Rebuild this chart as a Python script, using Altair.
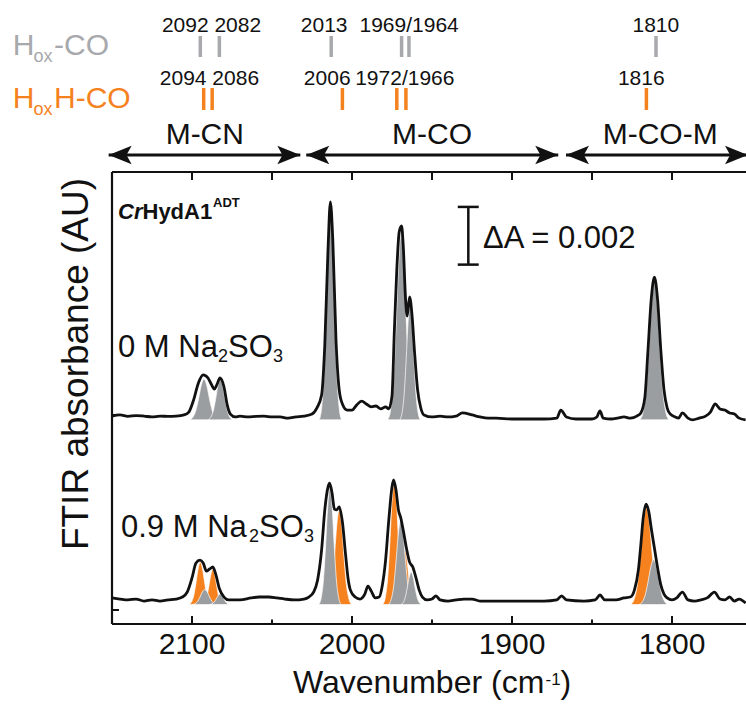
import altair as alt
import pandas as pd

FONT = "Liberation Sans"
GRAY = "#9b9ea1"
GRAY_TXT = "#a7a9ac"
ORANGE = "#f5821f"
BLACK = "#111111"

# ---------------- measured spectra (wavenumber cm-1, absorbance mAU incl. stacking offset)
upper_wn = [2150, 2145, 2140, 2135, 2130, 2125, 2120, 2115, 2110, 2105, 2102, 2099, 2096, 2093, 2090,
            2088, 2086, 2084.5, 2082.5, 2080, 2078, 2076, 2073, 2070, 2065, 2060, 2055, 2050, 2045, 2040,
            2035, 2030, 2025, 2022, 2019, 2017, 2015, 2013.5, 2012, 2010, 2008, 2006, 2003, 2000, 1997,
            1994, 1991, 1988, 1985, 1982, 1979, 1977, 1975, 1973.5, 1972, 1970.5, 1969, 1968, 1966.5,
            1965.5, 1964, 1962.5, 1961, 1959, 1957, 1955, 1950, 1945, 1940, 1935, 1931, 1925, 1920, 1915,
            1910, 1900, 1890, 1880, 1872, 1869.5, 1866, 1860, 1855, 1850, 1847, 1845, 1843, 1838, 1834,
            1830, 1826, 1822, 1819.5, 1817, 1815, 1813, 1811, 1809, 1807, 1805, 1803, 1801, 1798, 1796,
            1793.5, 1790, 1787, 1783, 1779, 1776, 1773, 1770, 1767, 1764, 1761, 1758, 1754]
upper_A = [6.72, 6.76, 6.71, 6.74, 6.72, 6.69, 6.72, 6.71, 6.72, 6.76, 6.86, 7.28, 7.87, 8.15, 8.04,
           7.83, 7.66, 7.80, 8.04, 7.73, 7.11, 6.79, 6.69, 6.72, 6.69, 6.71, 6.72, 6.69, 6.69, 6.65,
           6.69, 6.72, 6.79, 7.00, 7.45, 9.19, 12.48, 14.14, 12.82, 9.36, 7.63, 7.14, 6.93, 6.93, 7.11,
           7.24, 7.14, 7.04, 7.07, 6.97, 7.04, 6.97, 7.42, 9.71, 11.79, 13.10, 13.31, 12.65, 10.75,
           10.19, 10.85, 10.23, 9.01, 7.63, 7.00, 6.76, 6.69, 6.72, 6.69, 6.72, 6.83, 6.76, 6.69, 6.65,
           6.65, 6.62, 6.62, 6.62, 6.65, 6.93, 6.69, 6.62, 6.62, 6.62, 6.69, 6.90, 6.65, 6.62, 6.65,
           6.69, 6.65, 6.72, 6.83, 7.35, 9.01, 10.75, 11.54, 10.75, 9.01, 7.63, 7.00, 6.79, 6.69, 6.65,
           6.83, 6.65, 6.59, 6.65, 6.72, 6.86, 7.14, 6.97, 6.93, 6.83, 6.79, 6.65, 6.59]

lower_wn = [2150, 2145, 2140, 2135, 2130, 2125, 2120, 2115, 2110, 2106, 2103, 2100, 2097.5, 2095, 2093,
            2091, 2089, 2087, 2085, 2083, 2080, 2077, 2070, 2063, 2058, 2052, 2047, 2042, 2036, 2030,
            2027, 2024, 2021.5, 2019, 2017, 2015, 2014, 2012.5, 2011, 2009.5, 2008, 2006, 2004, 2002.5,
            2001, 1998, 1995, 1992, 1990, 1988, 1985.5, 1983, 1981, 1979, 1977, 1975, 1974, 1972.5, 1971,
            1969.5, 1968, 1966, 1964, 1962, 1960, 1958, 1956, 1953, 1950, 1947.5, 1945, 1940, 1935, 1930,
            1925, 1920, 1910, 1900, 1890, 1880, 1872, 1869, 1866, 1855, 1848, 1845, 1842, 1835, 1830,
            1826, 1823.5, 1821, 1819.5, 1818, 1816.2, 1814.5, 1813, 1811, 1809, 1807, 1805, 1803, 1800,
            1797, 1793.5, 1790, 1786, 1782, 1778, 1773.5, 1770, 1767, 1764, 1761, 1758, 1754]
lower_A = [0.42, 0.38, 0.35, 0.38, 0.31, 0.35, 0.31, 0.35, 0.38, 0.45, 0.62, 1.11, 1.63, 1.73, 1.63,
           1.35, 1.42, 1.49, 1.21, 0.76, 0.45, 0.35, 0.35, 0.42, 0.45, 0.45, 0.42, 0.38, 0.35, 0.38,
           0.45, 0.62, 1.04, 2.08, 3.47, 4.26, 4.40, 4.06, 3.50, 3.47, 3.57, 3.05, 1.91, 1.11,
           0.69, 0.45, 0.38, 0.55, 0.83, 0.66, 0.42, 0.45, 0.87, 1.73, 3.12, 4.26, 4.51, 4.16, 3.47,
           3.19, 2.77, 2.15, 1.66, 1.49, 1.11, 0.69, 0.45, 0.35, 0.38, 0.49, 0.35, 0.31, 0.35, 0.38,
           0.38, 0.31, 0.31, 0.31, 0.31, 0.31, 0.35, 0.49, 0.35, 0.31, 0.35, 0.52, 0.35, 0.35, 0.42,
           0.45, 0.69, 1.39, 2.25, 3.19, 3.67, 3.40, 2.84, 2.15, 1.46, 0.87, 0.55, 0.42, 0.35,
           0.42, 0.62, 0.35, 0.31, 0.35, 0.42, 0.62, 0.38, 0.35, 0.45, 0.31, 0.38, 0.24]

# ---------------- fitted component bands (read from the filled shapes)
UPPER_BASE = 6.59
LOWER_BASE = 0.19

up_2092_wn = [2101.6, 2099.5, 2097.75, 2096.0, 2094.25, 2092.5, 2090.75, 2089.0, 2087.25, 2085.5, 2083.4]
up_2092_A = [6.59, 6.68, 6.89, 7.30, 7.78, 8.01, 7.78, 7.30, 6.89, 6.68, 6.59]
up_2082_wn = [2090.1, 2088.3, 2086.8, 2085.3, 2083.8, 2082.3, 2080.8, 2079.3, 2077.8, 2076.3, 2074.5]
up_2082_A = [6.59, 6.68, 6.88, 7.29, 7.77, 7.99, 7.77, 7.29, 6.88, 6.68, 6.59]
up_2013_wn = [2020.5, 2018.9, 2017.55, 2016.2, 2014.85, 2013.5, 2012.15, 2010.8, 2009.45, 2008.1, 2006.5]
up_2013_A = [6.59, 7.05, 8.15, 10.30, 12.81, 14.00, 12.81, 10.30, 8.15, 7.05, 6.59]
up_1969_wn = [1977.7, 1975.7, 1974.1, 1972.45, 1970.8, 1969.2, 1967.6, 1965.95, 1964.3, 1962.7, 1960.7]
up_1969_A = [6.59, 7.00, 7.96, 9.85, 12.06, 13.10, 12.06, 9.85, 7.96, 7.00, 6.59]
up_1964_wn = [1970.2, 1968.7, 1967.45, 1966.2, 1964.95, 1963.7, 1962.45, 1961.2, 1959.95, 1958.7, 1957.2]
up_1964_A = [6.59, 6.84, 7.44, 8.62, 9.99, 10.64, 9.99, 8.62, 7.44, 6.84, 6.59]
up_1810_wn = [1820.1, 1818.0, 1816.25, 1814.5, 1812.75, 1811.0, 1809.25, 1807.5, 1805.75, 1804.0, 1801.9]
up_1810_A = [6.59, 6.89, 7.60, 9.00, 10.63, 11.40, 10.63, 9.00, 7.60, 6.89, 6.59]

lo_or_2094_wn = [2102.0, 2100.3, 2098.9, 2097.55, 2096.2, 2094.8, 2093.4, 2092.05, 2090.7, 2089.3, 2087.6]
lo_or_2094_A = [0.19, 0.28, 0.50, 0.93, 1.42, 1.66, 1.42, 0.93, 0.50, 0.28, 0.19]
lo_or_2086_wn = [2093.5, 2092.0, 2090.75, 2089.5, 2088.25, 2087.0, 2085.75, 2084.5, 2083.25, 2082.0, 2080.5]
lo_or_2086_A = [0.19, 0.27, 0.45, 0.81, 1.22, 1.42, 1.22, 0.81, 0.45, 0.27, 0.19]
lo_or_2006_wn = [2015.8, 2014.0, 2012.5, 2011.0, 2009.5, 2008.0, 2006.5, 2005.0, 2003.5, 2002.0, 2000.2]
lo_or_2006_A = [0.19, 0.40, 0.88, 1.83, 2.95, 3.47, 2.95, 1.83, 0.88, 0.40, 0.19]
lo_or_1972_wn = [1980.8, 1979.1, 1977.75, 1976.35, 1975.0, 1973.6, 1972.2, 1970.85, 1969.45, 1968.1, 1966.4]
lo_or_1972_A = [0.19, 0.46, 1.08, 2.32, 3.76, 4.44, 3.76, 2.32, 1.08, 0.46, 0.19]
lo_or_1966_wn = [1973.5, 1972.0, 1970.75, 1969.5, 1968.25, 1967.0, 1965.75, 1964.5, 1963.25, 1962.0, 1960.5]
lo_or_1966_A = [0.19, 0.31, 0.59, 1.14, 1.78, 2.08, 1.78, 1.14, 0.59, 0.31, 0.19]
lo_or_1816_wn = [1825.75, 1823.5, 1821.6, 1819.75, 1817.9, 1816.0, 1814.1, 1812.25, 1810.4, 1808.5, 1806.25]
lo_or_1816_A = [0.19, 0.40, 0.89, 1.87, 3.00, 3.54, 3.00, 1.87, 0.89, 0.40, 0.19]

lo_gr_2092_wn = [2099.8, 2098.0, 2096.5, 2095.0, 2093.5, 2092.0, 2090.5, 2089.0, 2087.5, 2086.0, 2084.2]
lo_gr_2092_A = [0.19, 0.22, 0.30, 0.45, 0.63, 0.71, 0.63, 0.45, 0.30, 0.22, 0.19]
lo_gr_2082_wn = [2089.0, 2087.5, 2086.25, 2085.0, 2083.75, 2082.5, 2081.25, 2080.0, 2078.75, 2077.5, 2076.0]
lo_gr_2082_A = [0.19, 0.21, 0.27, 0.37, 0.49, 0.55, 0.49, 0.37, 0.27, 0.21, 0.19]
lo_gr_2013_wn = [2020.8, 2019.2, 2017.85, 2016.5, 2015.15, 2013.8, 2012.45, 2011.1, 2009.75, 2008.4, 2006.8]
lo_gr_2013_A = [0.19, 0.44, 1.04, 2.23, 3.61, 4.26, 3.61, 2.23, 1.04, 0.44, 0.19]
lo_gr_1969_wn = [1977.3, 1975.5, 1974.0, 1972.5, 1971.0, 1969.5, 1968.0, 1966.5, 1965.0, 1963.5, 1961.7]
lo_gr_1969_A = [0.19, 0.37, 0.81, 1.67, 2.67, 3.14, 2.67, 1.67, 0.81, 0.37, 0.19]
lo_gr_1964_wn = [1969.5, 1968.0, 1966.75, 1965.5, 1964.25, 1963.0, 1961.75, 1960.5, 1959.25, 1958.0, 1956.5]
lo_gr_1964_A = [0.19, 0.26, 0.43, 0.76, 1.14, 1.32, 1.14, 0.76, 0.43, 0.26, 0.19]
lo_gr_1810_wn = [1820.6, 1818.5, 1816.75, 1815.0, 1813.25, 1811.5, 1809.75, 1808.0, 1806.25, 1804.5, 1802.4]
lo_gr_1810_A = [0.19, 0.29, 0.52, 0.97, 1.49, 1.74, 1.49, 0.97, 0.52, 0.29, 0.19]

# ---------------- annotations
hox_tick_wn = [2094.8, 2082.9, 2013.0, 1969.0, 1964.4, 1810.0]
hoxh_tick_wn = [2092.7, 2087.4, 2006.0, 1972.0, 1966.3, 1816.0]
hox_labels = ["2092 2082", "2013", "1969/1964", "1810"]
hox_label_wn = [2087.8, 2017.4, 1964.3, 1810.1]
hoxh_labels = ["2094 2086", "2006", "1972/1966", "1816"]
hoxh_label_wn = [2089.1, 2015.5, 1967.0, 1819.2]
region_names = ["M-CN", "M-CO", "M-CO-M"]
region_center = [2092.0, 1950.0, 1807.4]
region_lo = [2152.1, 2028.6, 1866.25]
region_hi = [2032.3, 1871.1, 1752.5]
x_major = [2100, 2000, 1900, 1800]
x_minor = [2050, 1950, 1850]
x_labels = ["2100", "2000", "1900", "1800"]
y_ticks = [6.76, 0.0]
bar_wn, bar_top, bar_bottom = 1927.3, 13.97, 11.97
bar_cap_lo, bar_cap_hi = 1933.9, 1920.8

X_DOMAIN = [2150, 1753.75]
Y_DOMAIN = [-0.485, 15.18]
W, H = 634, 452

xs = alt.Scale(domain=X_DOMAIN, nice=False, zero=False)
ys = alt.Scale(domain=Y_DOMAIN, nice=False, zero=False)


def comps(pairs, base):
    rows = []
    for name, wn, a in pairs:
        for w, v in zip(wn, a):
            rows.append({"comp": name, "wn": w, "A": v, "base": base})
    return pd.DataFrame(rows)


upper_df = comps([("u2092", up_2092_wn, up_2092_A), ("u2082", up_2082_wn, up_2082_A),
                  ("u2013", up_2013_wn, up_2013_A), ("u1969", up_1969_wn, up_1969_A),
                  ("u1964", up_1964_wn, up_1964_A), ("u1810", up_1810_wn, up_1810_A)], UPPER_BASE)
lo_or_df = comps([("o2094", lo_or_2094_wn, lo_or_2094_A), ("o2086", lo_or_2086_wn, lo_or_2086_A),
                  ("o2006", lo_or_2006_wn, lo_or_2006_A), ("o1972", lo_or_1972_wn, lo_or_1972_A),
                  ("o1966", lo_or_1966_wn, lo_or_1966_A), ("o1816", lo_or_1816_wn, lo_or_1816_A)], LOWER_BASE)
lo_gr_df = comps([("g2092", lo_gr_2092_wn, lo_gr_2092_A), ("g2082", lo_gr_2082_wn, lo_gr_2082_A),
                  ("g2013", lo_gr_2013_wn, lo_gr_2013_A), ("g1969", lo_gr_1969_wn, lo_gr_1969_A),
                  ("g1964", lo_gr_1964_wn, lo_gr_1964_A), ("g1810", lo_gr_1810_wn, lo_gr_1810_A)], LOWER_BASE)

spec_df = pd.concat([
    pd.DataFrame({"wn": upper_wn, "A": upper_A, "trace": "0 M"}),
    pd.DataFrame({"wn": lower_wn, "A": lower_A, "trace": "0.9 M"}),
])

X = alt.X("wn:Q", scale=xs, axis=None)
Y = alt.Y("A:Q", scale=ys, axis=None, stack=None)


def area(df, color):
    return alt.Chart(df).mark_area(interpolate="monotone", color=color, stroke="white",
                                   strokeWidth=0.7, opacity=1).encode(
        x=X, y=Y, y2="base:Q", detail="comp:N")


layers = [
    area(lo_or_df, ORANGE),
    area(lo_gr_df, GRAY),
    area(upper_df, GRAY),
    alt.Chart(spec_df).mark_line(color=BLACK, strokeWidth=2.8, interpolate="monotone").encode(
        x=X, y=alt.Y("A:Q", scale=ys, axis=None), detail="trace:N"),
]

one = pd.DataFrame({"k": [0]})


def rule(**enc):
    return alt.Chart(one).mark_rule(color=BLACK, strokeWidth=2.2).encode(**enc)


# frame (left, top, bottom)
layers += [
    rule(x=alt.value(0), y=alt.value(0), y2=alt.value(H)),
    rule(x=alt.value(0), x2=alt.value(W + 2), y=alt.value(0)),
    rule(x=alt.value(0), x2=alt.value(W + 2), y=alt.value(H)),
]

# inward ticks
layers += [
    alt.Chart(pd.DataFrame({"wn": x_major})).mark_rule(color=BLACK, strokeWidth=2).encode(
        x=X, y=alt.value(H - 8), y2=alt.value(H)),
    alt.Chart(pd.DataFrame({"wn": x_minor})).mark_rule(color=BLACK, strokeWidth=2).encode(
        x=X, y=alt.value(H - 4.5), y2=alt.value(H)),
    alt.Chart(pd.DataFrame({"wn": x_major + x_minor})).mark_rule(color=BLACK, strokeWidth=2).encode(
        x=X, y=alt.value(0), y2=alt.value(8)),
    alt.Chart(pd.DataFrame({"A": y_ticks})).mark_rule(color=BLACK, strokeWidth=2).encode(
        y=alt.Y("A:Q", scale=ys, axis=None), x=alt.value(0), x2=alt.value(7)),
]

# tick labels
layers.append(alt.Chart(pd.DataFrame({"wn": x_major, "t": x_labels})).mark_text(
    font=FONT, fontSize=30, color=BLACK, align="center", baseline="alphabetic").encode(
    x=X, y=alt.value(481.5), text="t:N"))


def txt(t, x, y, size, color=BLACK, align="left", weight="normal", style="normal", angle=0,
        baseline="alphabetic"):
    kw = dict(font=FONT, fontSize=size, color=color, align=align, baseline=baseline,
              fontWeight=weight, fontStyle=style)
    if angle:
        kw["angle"] = angle
    return alt.Chart(pd.DataFrame({"t": [t]})).mark_text(**kw).encode(
        x=alt.value(x), y=alt.value(y), text="t:N")


# axis titles
layers += [
    txt("FTIR absorbance (AU)", -24, 192, 37, align="center", angle=270),
    txt("Wavenumber (cm", 181, 521, 32),
    txt("-1", 433.5, 513, 17),
    txt(")", 448.5, 521, 32),
]

# in-plot labels
layers += [
    txt("Cr", 6, 46.5, 22, weight="bold", style="italic"),
    txt("HydA1", 30.5, 46.5, 22, weight="bold"),
    txt("ADT", 101, 35, 13, weight="bold"),
    txt("0 M Na", 6, 185, 31),
    txt("2", 106, 190, 18),
    txt("SO", 116, 185, 31),
    txt("3", 161, 190, 18),
    txt("0.9 M Na", 9, 364.7, 31),
    txt("2", 137, 369.7, 18),
    txt("SO", 147, 364.7, 31),
    txt("3", 192, 369.7, 18),
    txt("\u0394A = 0.002", 371, 76, 31),
]

# scale bar
sb = pd.DataFrame({"wn": [bar_wn], "A": [bar_top], "A2": [bar_bottom],
                   "c1": [bar_cap_lo], "c2": [bar_cap_hi]})
layers += [
    alt.Chart(sb).mark_rule(color=BLACK, strokeWidth=2.5).encode(
        x=X, y=alt.Y("A:Q", scale=ys, axis=None), y2="A2:Q"),
    alt.Chart(sb).mark_rule(color=BLACK, strokeWidth=2.5).encode(
        x=alt.X("c1:Q", scale=xs, axis=None), x2="c2:Q", y=alt.Y("A:Q", scale=ys, axis=None)),
    alt.Chart(sb).mark_rule(color=BLACK, strokeWidth=2.5).encode(
        x=alt.X("c1:Q", scale=xs, axis=None), x2="c2:Q", y=alt.Y("A2:Q", scale=ys, axis=None)),
]

# species legend text (with subscripts)
layers += [
    txt("H", -99.3, -117, 30, color=GRAY_TXT),
    txt("ox", -78.5, -110.5, 18, color=GRAY_TXT),
    txt("-CO", -58, -117, 30, color=GRAY_TXT),
    txt("H", -99.3, -64, 30, color=ORANGE),
    txt("ox", -78.5, -57.5, 18, color=ORANGE),
    txt("H-CO", -58, -64, 30, color=ORANGE),
]

# peak position labels and markers
layers += [
    alt.Chart(pd.DataFrame({"wn": hox_label_wn, "t": hox_labels})).mark_text(
        font=FONT, fontSize=21, color=BLACK, align="center", baseline="alphabetic").encode(
        x=X, y=alt.value(-139.7), text="t:N"),
    alt.Chart(pd.DataFrame({"wn": hoxh_label_wn, "t": hoxh_labels})).mark_text(
        font=FONT, fontSize=21, color=BLACK, align="center", baseline="alphabetic").encode(
        x=X, y=alt.value(-87), text="t:N"),
    alt.Chart(pd.DataFrame({"wn": hox_tick_wn})).mark_rule(color=GRAY_TXT, strokeWidth=3.5).encode(
        x=X, y=alt.value(-136), y2=alt.value(-115)),
    alt.Chart(pd.DataFrame({"wn": hoxh_tick_wn})).mark_rule(color=ORANGE, strokeWidth=3.5).encode(
        x=X, y=alt.value(-84), y2=alt.value(-62)),
]

# region arrows
reg = pd.DataFrame({"lo": region_lo, "hi": region_hi, "c": region_center, "t": region_names})
RIGHT_HEAD = "M0,0L-2,-0.8L-1.55,0L-2,0.8Z"
LEFT_HEAD = "M0,0L2,-0.8L1.55,0L2,0.8Z"
layers += [
    alt.Chart(reg).mark_rule(color=BLACK, strokeWidth=3).encode(
        x=alt.X("lo:Q", scale=xs, axis=None), x2="hi:Q", y=alt.value(-17)),
    alt.Chart(reg).mark_point(shape=LEFT_HEAD, filled=True, size=529, color=BLACK, opacity=1).encode(
        x=alt.X("lo:Q", scale=xs, axis=None), y=alt.value(-17)),
    alt.Chart(reg).mark_point(shape=RIGHT_HEAD, filled=True, size=529, color=BLACK, opacity=1).encode(
        x=alt.X("hi:Q", scale=xs, axis=None), y=alt.value(-17)),
    alt.Chart(reg).mark_text(font=FONT, fontSize=30, color=BLACK, align="center",
                             baseline="alphabetic").encode(
        x=alt.X("c:Q", scale=xs, axis=None), y=alt.value(-28), text="t:N"),
]

chart = alt.layer(*layers).properties(
    width=W, height=H,
    autosize=alt.AutoSizeParams(type="none"),
    padding={"left": 112, "top": 172, "right": 0, "bottom": 80},
).configure_view(stroke=None)

chart.save("out.html", embed_options={"renderer": "svg", "actions": False})
